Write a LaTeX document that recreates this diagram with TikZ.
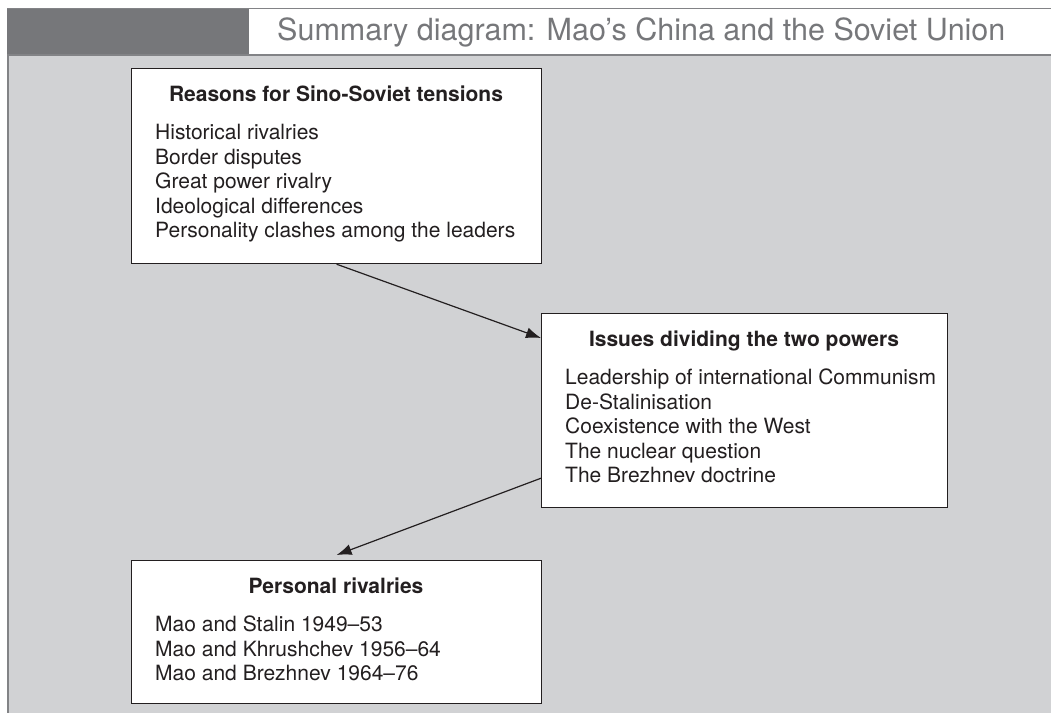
\documentclass[tikz,border=0pt]{standalone}
\usepackage{fontspec}
\setmainfont{TeX Gyre Heros}
\usepackage{tikz}
\usetikzlibrary{arrows.meta,positioning}

\definecolor{bandgray}{RGB}{118,119,122}
\definecolor{bodygray}{RGB}{209,210,212}
\definecolor{rulegray}{RGB}{130,131,134}
\definecolor{inkblack}{RGB}{35,31,32}

\begin{document}
\begin{tikzpicture}[x=1pt, y=-1pt, >={Latex[length=15pt,width=11pt]},
   box/.style={rectangle, draw=inkblack, line width=1.2pt, fill=white, anchor=north west, inner sep=0pt},
   head/.style={anchor=base, inner sep=0pt, text=inkblack, font=\fontsize{21}{24.5}\selectfont\bfseries},
   itemtext/.style={anchor=base west, inner sep=0pt, text=inkblack, font=\fontsize{21}{24.5}\selectfont},
   link/.style={->, draw=inkblack, line width=1.2pt}]
\useasboundingbox (0,0) rectangle (1051,713);
% page and header
\fill[bodygray] (7,55) rectangle (1051,713);
\fill[bandgray] (7,8) rectangle (249,55);
\draw[rulegray, line width=1pt] (7,8) -- (1051,8);
\draw[rulegray, line width=1.5pt] (7,55) -- (1051,55);
\draw[rulegray, line width=2pt] (8,55) -- (8,713);
\node[anchor=base west, inner sep=0pt, text=bandgray, font=\fontsize{30.5}{36}\selectfont] (summary) at (277,40) {Summary diagram: Mao’s China and the Soviet Union};

% boxes
\node[box, minimum width=410pt, minimum height=195pt] (reasons) at (131,68) {};
\node[box, minimum width=406pt, minimum height=194pt] (issues) at (541,313) {};
\node[box, minimum width=410pt, minimum height=143pt] (rivalries) at (131,560) {};

\node[head] (reasons-head) at (336,101) {Reasons for Sino-Soviet tensions};
\node[head] (issues-head) at (744,346) {Issues dividing the two powers};
\node[head] (rivalries-head) at (336,593) {Personal rivalries};

\foreach \txt [count=\i] in {Historical rivalries, Border disputes, Great power rivalry, Ideological differences, Personality clashes among the leaders}
   \node[itemtext] (reasons-\i) at (155,{115+24.5*\i}) {\txt};
\foreach \txt [count=\i] in {Leadership of international Communism, De-Stalinisation, Coexistence with the West, The nuclear question, The Brezhnev doctrine}
   \node[itemtext] (issues-\i) at (565,{360+24.5*\i}) {\txt};
\foreach \txt [count=\i] in {Mao and Stalin 1949–53, Mao and Khrushchev 1956–64, Mao and Brezhnev 1964–76}
   \node[itemtext] (rivalries-\i) at (155,{607+24.5*\i}) {\txt};

% arrows
\draw[link] (reasons.south) -- ([yshift=-25pt]issues.north west);
\draw[link] ([yshift=30pt]issues.south west) -- ([yshift=5pt]rivalries.north);
\end{tikzpicture}
\end{document}
